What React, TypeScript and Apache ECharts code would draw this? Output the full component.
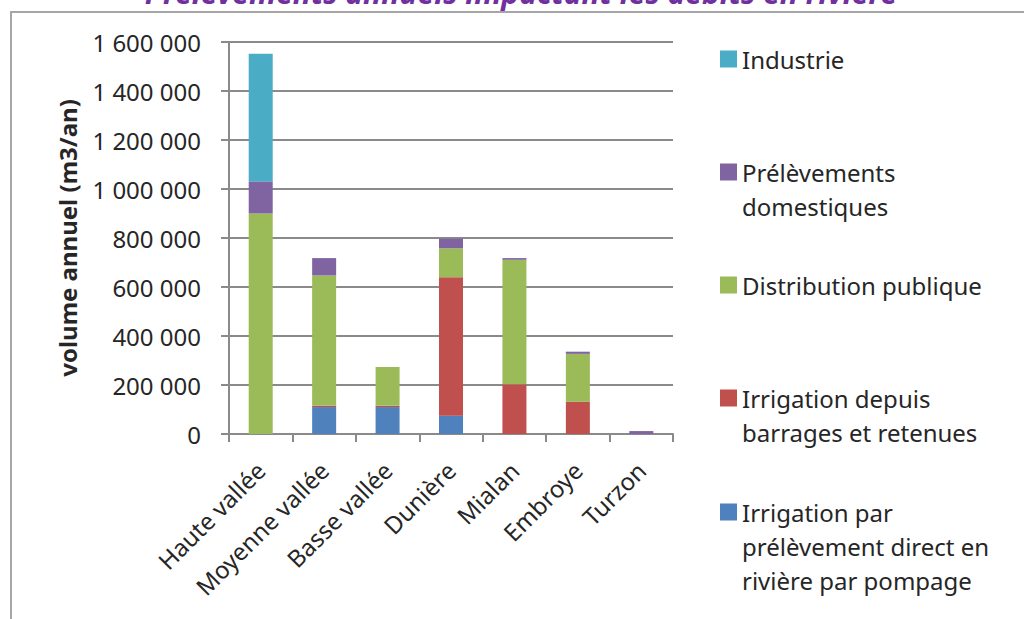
import React, { useEffect, useRef } from "react";
import * as echarts from "echarts";

const categories = [
  "Haute vallée",
  "Moyenne vallée",
  "Basse vallée",
  "Dunière",
  "Mialan",
  "Embroye",
  "Turzon",
];
const irrigationPompage = [0, 110000, 110000, 75000, 0, 0, 0];
const irrigationBarrages = [0, 6000, 5000, 565000, 203000, 132000, 0];
const distributionPublique = [900000, 531000, 158000, 118000, 508000, 195000, 0];
const prelevementsDomestiques = [131000, 71000, 0, 39000, 7000, 9000, 12000];
const industrie = [521000, 0, 0, 0, 0, 0, 0];

const yMin = 0;
const yMax = 1600000;
const yInterval = 200000;

const seriesNames = [
  "Irrigation par prélèvement direct en rivière par pompage",
  "Irrigation depuis barrages et retenues",
  "Distribution publique",
  "Prélèvements domestiques",
  "Industrie",
];
const legendLabels = [
  "Irrigation par\nprélèvement direct en\nrivière par pompage",
  "Irrigation depuis\nbarrages et retenues",
  "Distribution publique",
  "Prélèvements\ndomestiques",
  "Industrie",
];
const seriesValues = [
  irrigationPompage,
  irrigationBarrages,
  distributionPublique,
  prelevementsDomestiques,
  industrie,
];
const seriesColors = ["#4F81BD", "#C0504D", "#9BBB59", "#8064A2", "#4BACC6"];
const legendCenters = [512, 398, 285, 172, 59];

const FONT = "'Noto Sans', 'Open Sans', sans-serif";
const TEXT = "#262626";
const LINE = "#8a8a8a";

const fmt = (v: number) => String(v).replace(/\B(?=(\d{3})+(?!\d))/g, " ");

export default function App() {
  const ref = useRef<HTMLDivElement>(null);
  useEffect(() => {
    if (!ref.current) return;
    const chart = echarts.init(ref.current, null, { renderer: "svg" });
    const LH = 34;
    const legends = seriesNames.map((name, i) => {
      const lines = legendLabels[i].split("\n").length;
      // pad with blank lines above so that the first line sits level with the swatch
      const padded = Array(lines - 1).fill(" ").concat(legendLabels[i].split("\n")).join("\n");
      return {
        data: [name],
        left: 720,
        top: legendCenters[i] - ((2 * lines - 1) * LH) / 2,
        orient: "vertical",
        padding: 0,
        itemWidth: 17,
        itemHeight: 17,
        itemGap: 0,
        icon: "rect",
        selectedMode: false,
        formatter: () => padded,
        textStyle: {
          fontFamily: FONT,
          fontSize: 24,
          lineHeight: LH,
          color: TEXT,
        },
      };
    });
    chart.setOption({
      animation: false,
      backgroundColor: "#ffffff",
      graphic: [
        {
          type: "rect",
          z: -10,
          shape: { x: 11, y: 12, width: 1300, height: 900 },
          style: { fill: "none", stroke: "#a6a6a6", lineWidth: 2 },
        },
        {
          type: "text",
          x: 521,
          y: -7.5,
          style: {
            text: "Prélèvements annuels impactant les débits en rivière",
            fontFamily: FONT,
            fontSize: 30,
            fontWeight: "bold",
            fontStyle: "italic",
            fill: "#7030A0",
            align: "center",
            verticalAlign: "middle",
          },
        },
      ],
      legend: legends,
      grid: { left: 229, top: 42, width: 444, height: 392, containLabel: false },
      xAxis: {
        type: "category",
        data: categories,
        axisLine: { show: true, lineStyle: { color: LINE, width: 2 } },
        axisTick: { show: true, length: 8, lineStyle: { color: LINE, width: 2 } },
        axisLabel: {
          interval: 0,
          rotate: 45,
          margin: 32,
          fontFamily: FONT,
          fontSize: 24,
          color: TEXT,
        },
      },
      yAxis: {
        type: "value",
        min: yMin,
        max: yMax,
        interval: yInterval,
        name: "volume annuel (m3/an)",
        nameLocation: "middle",
        nameGap: 150,
        nameTextStyle: { fontFamily: FONT, fontSize: 24, fontWeight: "bold", color: TEXT },
        axisLine: { show: true, lineStyle: { color: LINE, width: 2 } },
        axisTick: { show: true, length: 8, lineStyle: { color: LINE, width: 2 } },
        splitLine: { show: true, lineStyle: { color: LINE, width: 2 } },
        axisLabel: {
          margin: 28,
          fontFamily: FONT,
          fontSize: 24,
          color: TEXT,
          formatter: (v: number) => fmt(v),
        },
      },
      series: seriesNames.map((name, i) => ({
        name,
        type: "bar",
        stack: "total",
        barWidth: 24,
        data: seriesValues[i],
        itemStyle: { color: seriesColors[i] },
      })),
    });
    return () => chart.dispose();
  }, []);
  return (
    <div
      ref={ref}
      style={{ position: "fixed", left: 0, top: 0, width: 1024, height: 619 }}
    />
  );
}
